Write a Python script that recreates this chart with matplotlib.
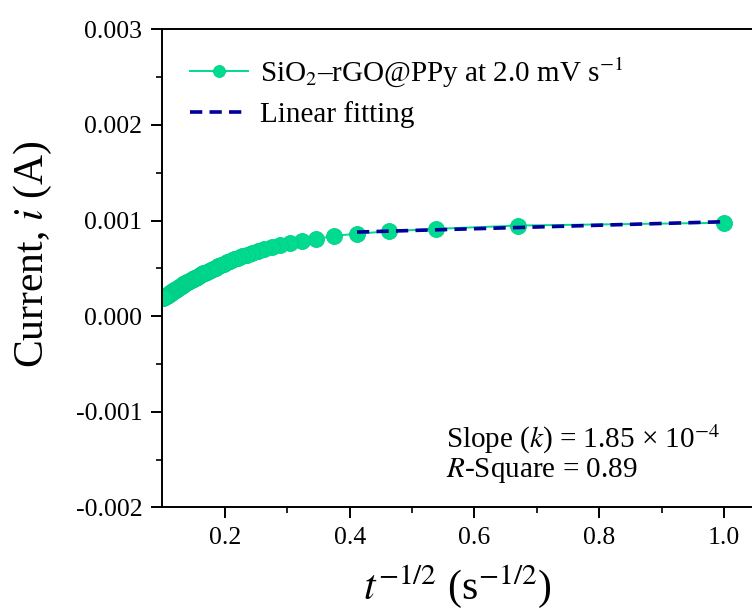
import numpy as np
import matplotlib
matplotlib.use("Agg")
import matplotlib.pyplot as plt

plt.rcParams['font.family'] = ['Liberation Serif', 'DejaVu Serif']
plt.rcParams['mathtext.fontset'] = 'stix'

# t^(-1/2) values (s^-1/2)
t_inv_sqrt = [1.0, 0.6704, 0.5384, 0.4625, 0.4117, 0.3746, 0.3461, 0.3232, 0.3043, 0.2884,
              0.2747, 0.2628, 0.2524, 0.2431, 0.2347, 0.2272, 0.2203, 0.2141, 0.2083, 0.2030,
              0.1980, 0.1934, 0.1891, 0.1851, 0.1814, 0.1778, 0.1745, 0.1713, 0.1683, 0.1655,
              0.1628, 0.1602, 0.1577, 0.1554, 0.1531, 0.1510, 0.1489, 0.1469, 0.1450, 0.1432,
              0.1414, 0.1397, 0.1381, 0.1365, 0.1350, 0.1335, 0.1320, 0.1307, 0.1293, 0.1280,
              0.1267, 0.1255, 0.1243, 0.1232, 0.1220, 0.1209, 0.1199, 0.1188, 0.1178, 0.1168,
              0.1159, 0.1149, 0.1140, 0.1131, 0.1122, 0.1114, 0.1105, 0.1097, 0.1089, 0.1081,
              0.1074, 0.1066, 0.1059, 0.1052, 0.1045, 0.1038, 0.1031, 0.1024, 0.1018, 0.1011,
              0.1005]
# current (A)
current = [0.000977, 0.000948, 0.000913, 0.000888, 0.000862, 0.000840, 0.000806, 0.000784, 0.000765, 0.000745,
           0.000727, 0.000707, 0.000683, 0.000662, 0.000643, 0.000625, 0.000609, 0.000595, 0.000578, 0.000562,
           0.000548, 0.000534, 0.000521, 0.000509, 0.000497, 0.000486, 0.000476, 0.000466, 0.000456, 0.000447,
           0.000439, 0.000431, 0.000421, 0.000413, 0.000404, 0.000397, 0.000389, 0.000381, 0.000374, 0.000368,
           0.000361, 0.000355, 0.000349, 0.000343, 0.000337, 0.000332, 0.000326, 0.000320, 0.000314, 0.000309,
           0.000303, 0.000298, 0.000293, 0.000288, 0.000283, 0.000278, 0.000274, 0.000269, 0.000265, 0.000260,
           0.000256, 0.000252, 0.000248, 0.000244, 0.000240, 0.000237, 0.000233, 0.000230, 0.000226, 0.000223,
           0.000220, 0.000216, 0.000213, 0.000210, 0.000207, 0.000204, 0.000201, 0.000198, 0.000196, 0.000193,
           0.000190]
n_fit = 5  # first points (largest t^-1/2) used for the linear fit

green = '#00DB8F'
navy = '#00009C'

fig = plt.figure(figsize=(7.52, 6.12), dpi=100)
ax = fig.add_axes([0.215, 0.171, 0.785, 0.781])

x = np.array(t_inv_sqrt)
y = np.array(current)
ax.plot(x, y, '-', color=green, lw=1.4, marker='o', ms=11.5,
        mfc=green, mec='#00CF88', mew=0.6, label=r'SiO$_2$–rGO@PPy at 2.0 mV s$^{-1}$', zorder=2)

k, b = np.polyfit(x[:n_fit], y[:n_fit], 1)
xf = np.array([x[:n_fit].min(), x[:n_fit].max()])
ax.plot(xf, k * xf + b, '--', color=navy, lw=2.6, dashes=(3.4, 2.0),
        label='Linear fitting', zorder=3)

ax.set_xlim(0.0986, 1.045)
ax.set_ylim(-0.002, 0.003)
ax.set_xticks([0.2, 0.4, 0.6, 0.8, 1.0])
ax.set_xticklabels(['0.2', '0.4', '0.6', '0.8', '1.0'])
ax.set_xticks(np.arange(0.3, 1.0, 0.2), minor=True)
ax.set_yticks([-0.002, -0.001, 0.0, 0.001, 0.002, 0.003])
ax.set_yticklabels(['-0.002', '-0.001', '0.000', '0.001', '0.002', '0.003'])
ax.set_yticks([-0.0015, -0.0005, 0.0005, 0.0015, 0.0025], minor=True)

ax.spines['right'].set_visible(False)
for s in ['left', 'bottom', 'top']:
    ax.spines[s].set_linewidth(1.4)
ax.tick_params(which='major', direction='out', length=8, width=1.4, labelsize=18.5, pad=6)
ax.tick_params(which='minor', direction='out', length=4, width=1.2)
ax.tick_params(top=False, right=False)

ax.set_ylabel(r'Current, $i$ (A)', fontsize=30)
ax.yaxis.set_label_coords(-0.183, 0.53)
ax.set_xlabel(r'$t^{-1/2}$ (s$^{-1/2}$)', fontsize=30, labelpad=10)

leg = ax.legend(loc='upper left', bbox_to_anchor=(0.003, 1.0), frameon=False, fontsize=21,
                handlelength=2.0, handletextpad=0.4, labelspacing=0.4, markerscale=0.75)

ax.text(0.554, -0.00129, r'Slope ($k$) = 1.85 × 10$^{-4}$', fontsize=21, va='center', ha='left')
ax.text(0.554, -0.00161, r'$R$-Square = 0.89', fontsize=21, va='center', ha='left')

fig.savefig('out.png', dpi=100)
